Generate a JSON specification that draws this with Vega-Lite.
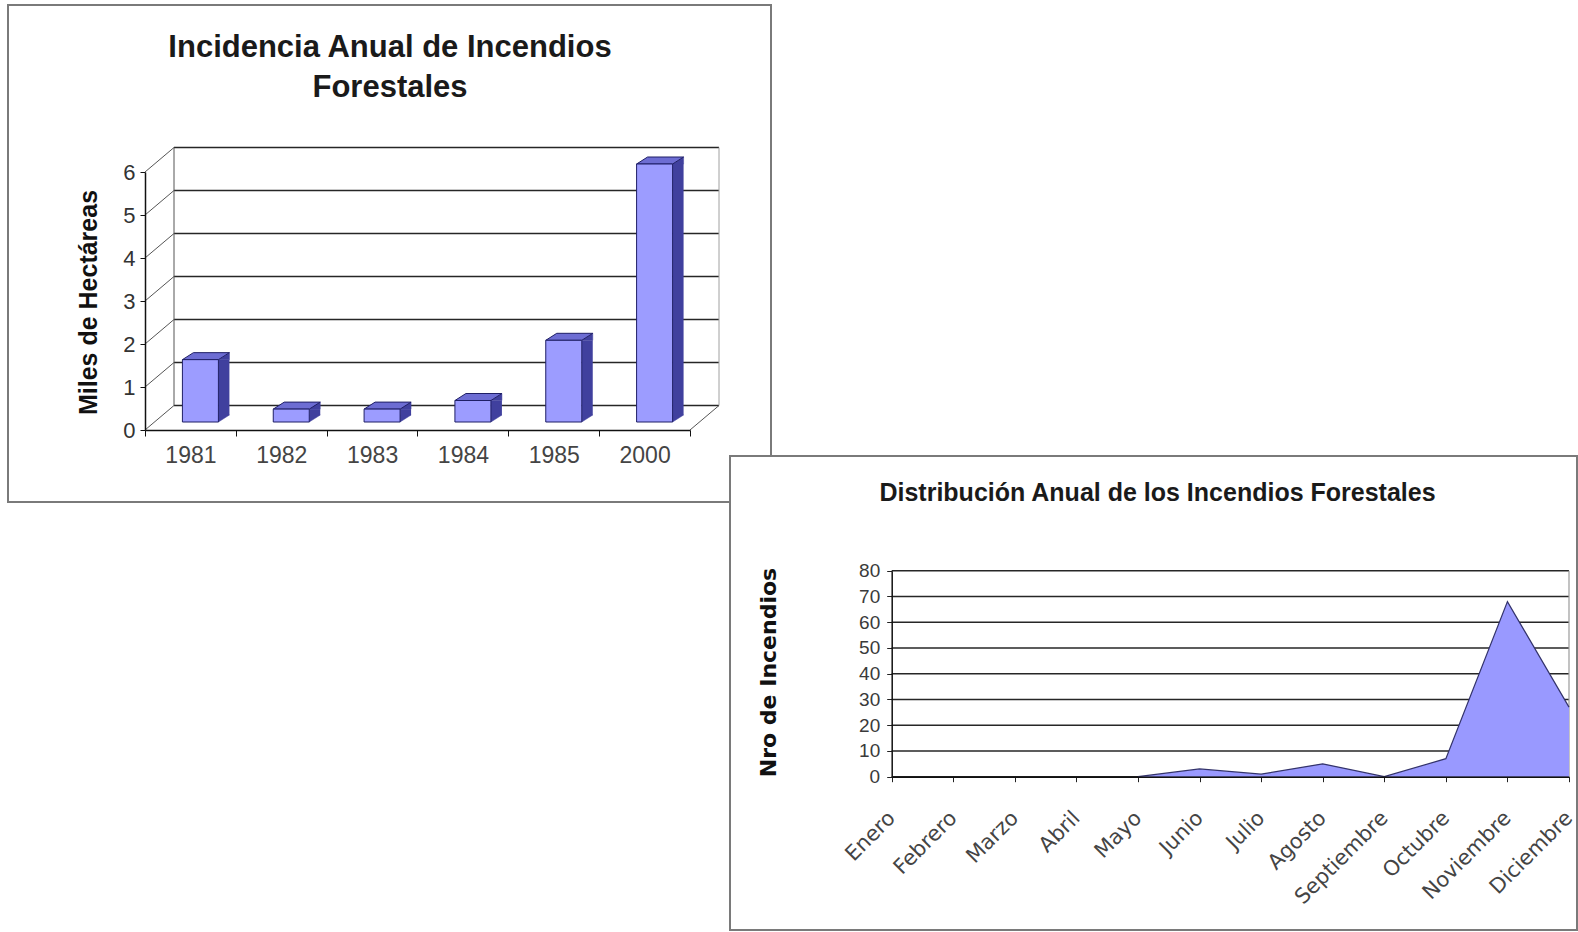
{
  "$schema": "https://vega.github.io/schema/vega-lite/v6.json",
  "background": "white",
  "padding": 0,
  "autosize": {"type": "none"},
  "width": 1578,
  "height": 932,
  "view": {"stroke": null},
  "config": {
    "font": "Liberation Sans",
    "axis": {"labelFont": "Liberation Sans", "titleFont": "Liberation Sans"}
  },
  "datasets": {
    "hectareas": [
      {"anio": "1981", "miles_ha": 1.45},
      {"anio": "1982", "miles_ha": 0.3},
      {"anio": "1983", "miles_ha": 0.3},
      {"anio": "1984", "miles_ha": 0.5},
      {"anio": "1985", "miles_ha": 1.9},
      {"anio": "2000", "miles_ha": 6.0}
    ],
    "incendios_mes": [
      {"mes": "Enero", "incendios": null},
      {"mes": "Febrero", "incendios": null},
      {"mes": "Marzo", "incendios": null},
      {"mes": "Abril", "incendios": null},
      {"mes": "Mayo", "incendios": 0},
      {"mes": "Junio", "incendios": 3},
      {"mes": "Julio", "incendios": 1},
      {"mes": "Agosto", "incendios": 5},
      {"mes": "Septiembre", "incendios": 0},
      {"mes": "Octubre", "incendios": 7},
      {"mes": "Noviembre", "incendios": 68},
      {"mes": "Diciembre", "incendios": 27}
    ],
    "marcas_ha": [{"v": 0}, {"v": 1}, {"v": 2}, {"v": 3}, {"v": 4}, {"v": 5}, {"v": 6}],
    "marcas_inc": [{"v": 0}, {"v": 10}, {"v": 20}, {"v": 30}, {"v": 40}, {"v": 50}, {"v": 60}, {"v": 70}, {"v": 80}]
  },
  "resolve": {
    "scale": {"x": "independent", "y": "independent"},
    "axis": {"x": "independent", "y": "independent"}
  },
  "layer": [
    {
      "data": {"values": [{"marco": "incidencia"}]},
      "mark": {"type": "rect", "fill": "white", "stroke": "#7a7a7a", "strokeWidth": 2},
      "encoding": {
        "x": {
          "datum": 0,
          "type": "quantitative",
          "scale": {"domain": [0, 1], "range": [8, 771], "nice": false, "zero": false},
          "axis": {
            "orient": "top",
            "offset": -5,
            "zindex": 1,
            "domain": false,
            "ticks": false,
            "labels": false,
            "grid": false,
            "title": ["Incidencia Anual de Incendios", "Forestales"],
            "titleFontSize": 31,
            "titleFontWeight": "bold",
            "titleColor": "#1a1a1a",
            "titleLineHeight": 40,
            "titleX": 389.5,
            "titleY": 51,
            "titleAngle": 0,
            "titleAlign": "center",
            "titleBaseline": "alphabetic"
          }
        },
        "x2": {"datum": 1},
        "y": {"datum": 0, "type": "quantitative", "scale": {"domain": [0, 1], "range": [5, 502], "nice": false, "zero": false}, "axis": null},
        "y2": {"datum": 1}
      }
    },
    {
      "resolve": {"axis": {"x": "independent", "y": "independent"}},
      "layer": [
        {
          "data": {"name": "marcas_ha"},
          "mark": {"type": "rule", "color": "#262626", "strokeWidth": 1.4, "xOffset": 29, "x2Offset": 29, "yOffset": -24.5},
          "encoding": {
            "x": {"datum": "1981", "type": "ordinal", "bandPosition": 0, "axis": null},
            "x2": {"datum": "2000", "bandPosition": 1},
            "y": {"field": "v", "type": "quantitative", "axis": null}
          }
        },
        {
          "data": {"name": "marcas_ha"},
          "mark": {"type": "rule", "color": "#555555", "strokeWidth": 1, "x2Offset": 29, "y2Offset": -24.5},
          "encoding": {
            "x": {"datum": "1981", "type": "ordinal", "bandPosition": 0, "axis": null},
            "x2": {"datum": "1981", "bandPosition": 0},
            "y": {"field": "v", "type": "quantitative", "axis": null},
            "y2": {"field": "v"}
          }
        },
        {
          "data": {"name": "marcas_ha"},
          "transform": [{"filter": "datum.v == 0"}],
          "mark": {"type": "rule", "color": "#555555", "strokeWidth": 1, "xOffset": 29, "yOffset": -24.5, "y2Offset": -24.5},
          "encoding": {
            "x": {"datum": "1981", "type": "ordinal", "bandPosition": 0, "axis": null},
            "y": {"datum": 0, "type": "quantitative", "axis": null},
            "y2": {"datum": 6}
          }
        },
        {
          "data": {"name": "marcas_ha"},
          "transform": [{"filter": "datum.v == 0"}],
          "mark": {"type": "rule", "color": "#a0a0a0", "strokeWidth": 1, "xOffset": 29, "yOffset": -24.5, "y2Offset": -24.5},
          "encoding": {
            "x": {"datum": "2000", "type": "ordinal", "bandPosition": 1, "axis": null},
            "y": {"datum": 0, "type": "quantitative", "axis": null},
            "y2": {"datum": 6}
          }
        },
        {
          "data": {"name": "marcas_ha"},
          "transform": [{"filter": "datum.v == 0"}],
          "mark": {"type": "rule", "color": "#555555", "strokeWidth": 1, "x2Offset": 29, "y2Offset": -24.5},
          "encoding": {
            "x": {"datum": "2000", "type": "ordinal", "bandPosition": 1, "axis": null},
            "x2": {"datum": "2000", "bandPosition": 1},
            "y": {"datum": 0, "type": "quantitative", "axis": null},
            "y2": {"datum": 0}
          }
        },
        {
          "data": {"name": "hectareas"},
          "mark": {"type": "bar", "width": 11, "xOffset": 33.5, "yOffset": -8, "y2Offset": -15, "color": "#40409e", "strokeWidth": 0},
          "encoding": {
            "x": {"field": "anio", "type": "ordinal", "axis": null},
            "y": {"field": "miles_ha", "type": "quantitative", "axis": null},
            "y2": {"datum": 0}
          }
        },
        {
          "data": {"name": "hectareas"},
          "mark": {"type": "point", "shape": "M0,0L11,-7L11,0Z", "size": 4, "filled": true, "fill": "#40409e", "stroke": "#40409e", "strokeWidth": 0.5, "opacity": 1, "xOffset": 28, "yOffset": -8},
          "encoding": {
            "x": {"field": "anio", "type": "ordinal", "axis": null},
            "y": {"field": "miles_ha", "type": "quantitative", "axis": null}
          }
        },
        {
          "data": {"name": "hectareas"},
          "mark": {"type": "point", "shape": "M0,-7L0,0L11,-7Z", "size": 4, "filled": true, "fill": "#40409e", "stroke": "#40409e", "strokeWidth": 0.5, "opacity": 1, "xOffset": 28, "yOffset": -8},
          "encoding": {
            "x": {"field": "anio", "type": "ordinal", "axis": null},
            "y": {"datum": 0, "type": "quantitative", "axis": null}
          }
        },
        {
          "data": {"name": "hectareas"},
          "mark": {"type": "point", "shape": "M-18,0L18,0L29,-7L-7,-7Z", "size": 4, "filled": true, "fill": "#6d6dd3", "stroke": "#1f1f66", "strokeWidth": 1, "opacity": 1, "xOffset": 10, "yOffset": -8},
          "encoding": {
            "x": {"field": "anio", "type": "ordinal", "axis": null},
            "y": {"field": "miles_ha", "type": "quantitative", "axis": null}
          }
        },
        {
          "data": {"name": "hectareas"},
          "mark": {"type": "bar", "width": 36, "xOffset": 10, "yOffset": -8, "y2Offset": -8, "fill": "#9c9cff", "stroke": "#1f1f66", "strokeWidth": 1},
          "encoding": {
            "x": {
              "field": "anio",
              "type": "ordinal",
              "scale": {"type": "band", "domain": ["1981", "1982", "1983", "1984", "1985", "2000"], "range": [145, 690], "paddingInner": 0, "paddingOuter": 0},
              "axis": {
                "orient": "bottom",
                "offset": -502,
                "zindex": 1,
                "title": null,
                "labelAngle": 0,
                "tickBand": "extent",
                "tickSize": 6,
                "tickColor": "#111111",
                "domainColor": "#111111",
                "domainWidth": 1.5,
                "labelFontSize": 23,
                "labelColor": "#444444",
                "labelPadding": 8,
                "grid": false
              }
            },
            "y": {
              "field": "miles_ha",
              "type": "quantitative",
              "scale": {"domain": [0, 6], "range": [430, 172], "nice": false},
              "axis": {
                "orient": "left",
                "offset": -145,
                "zindex": 1,
                "values": [0, 1, 2, 3, 4, 5, 6],
                "tickSize": 5,
                "tickColor": "#111111",
                "domainColor": "#111111",
                "domainWidth": 1.5,
                "labelFontSize": 22,
                "labelColor": "#333333",
                "labelPadding": 5,
                "grid": false,
                "title": "Miles de Hectáreas",
                "titleFontSize": 25,
                "titleFontWeight": "bold",
                "titleColor": "#111111",
                "titleAngle": -90,
                "titleX": -57,
                "titleY": 302,
                "titleAlign": "center",
                "titleBaseline": "middle"
              }
            },
            "y2": {"datum": 0}
          }
        }
      ]
    },
    {
      "data": {"values": [{"marco": "distribucion"}]},
      "mark": {"type": "rect", "fill": "white", "stroke": "#7a7a7a", "strokeWidth": 2},
      "encoding": {
        "x": {
          "datum": 0,
          "type": "quantitative",
          "scale": {"domain": [0, 1], "range": [730, 1577], "nice": false, "zero": false},
          "axis": {
            "orient": "top",
            "offset": -456,
            "zindex": 1,
            "domain": false,
            "ticks": false,
            "labels": false,
            "grid": false,
            "title": "Distribución Anual de los Incendios Forestales",
            "titleFontSize": 25,
            "titleFontWeight": "bold",
            "titleColor": "#1a1a1a",
            "titleX": 1157,
            "titleY": 44,
            "titleAngle": 0,
            "titleAlign": "center",
            "titleBaseline": "alphabetic"
          }
        },
        "x2": {"datum": 1},
        "y": {"datum": 0, "type": "quantitative", "scale": {"domain": [0, 1], "range": [456, 930], "nice": false, "zero": false}, "axis": null},
        "y2": {"datum": 1}
      }
    },
    {
      "resolve": {"axis": {"x": "independent", "y": "independent"}},
      "layer": [
        {
          "data": {"name": "marcas_inc"},
          "mark": {"type": "rule", "color": "#262626", "strokeWidth": 1.5},
          "encoding": {
            "x": {"datum": "Enero", "type": "ordinal", "axis": null},
            "x2": {"datum": "Diciembre"},
            "y": {"field": "v", "type": "quantitative", "axis": null}
          }
        },
        {
          "data": {"name": "marcas_inc"},
          "transform": [{"filter": "datum.v == 0"}],
          "mark": {"type": "rule", "color": "#9a9a9a", "strokeWidth": 1.2},
          "encoding": {
            "x": {"datum": "Diciembre", "type": "ordinal", "axis": null},
            "y": {"datum": 0, "type": "quantitative", "axis": null},
            "y2": {"datum": 80}
          }
        },
        {
          "data": {"name": "incendios_mes"},
          "mark": {"type": "area", "color": "#9999ff", "opacity": 1, "line": {"color": "#33336b", "strokeWidth": 1.2}},
          "encoding": {
            "x": {
              "field": "mes",
              "type": "ordinal",
              "sort": null,
              "scale": {"type": "point", "domain": ["Enero", "Febrero", "Marzo", "Abril", "Mayo", "Junio", "Julio", "Agosto", "Septiembre", "Octubre", "Noviembre", "Diciembre"], "range": [891.7, 1569], "padding": 0},
              "axis": {
                "orient": "bottom",
                "offset": -155.3,
                "zindex": 1,
                "title": null,
                "labelAngle": -45,
                "labelAlign": "right",
                "labelBaseline": "middle",
                "labelFont": "DejaVu Sans",
                "labelFontSize": 21,
                "labelColor": "#444444",
                "labelPadding": 33,
                "labelOverlap": false,
                "labelBound": false,
                "labelFlush": false,
                "tickSize": 5,
                "tickColor": "#222222",
                "domainColor": "#111111",
                "domainWidth": 1.5,
                "grid": false
              }
            },
            "y": {
              "field": "incendios",
              "type": "quantitative",
              "scale": {"domain": [0, 80], "range": [776.7, 570.7], "nice": false},
              "axis": {
                "orient": "left",
                "offset": -891.7,
                "zindex": 1,
                "values": [0, 10, 20, 30, 40, 50, 60, 70, 80],
                "tickSize": 5,
                "tickColor": "#222222",
                "domainColor": "#111111",
                "domainWidth": 1.5,
                "labelFontSize": 19,
                "labelColor": "#3a3a3a",
                "labelPadding": 7,
                "labelOverlap": false,
                "grid": false,
                "title": "Nro de Incendios",
                "titleFont": "DejaVu Sans",
                "titleFontSize": 22,
                "titleFontWeight": "bold",
                "titleColor": "#111111",
                "titleAngle": -90,
                "titleX": -123.7,
                "titleY": 672,
                "titleAlign": "center",
                "titleBaseline": "middle"
              }
            }
          }
        }
      ]
    }
  ]
}
